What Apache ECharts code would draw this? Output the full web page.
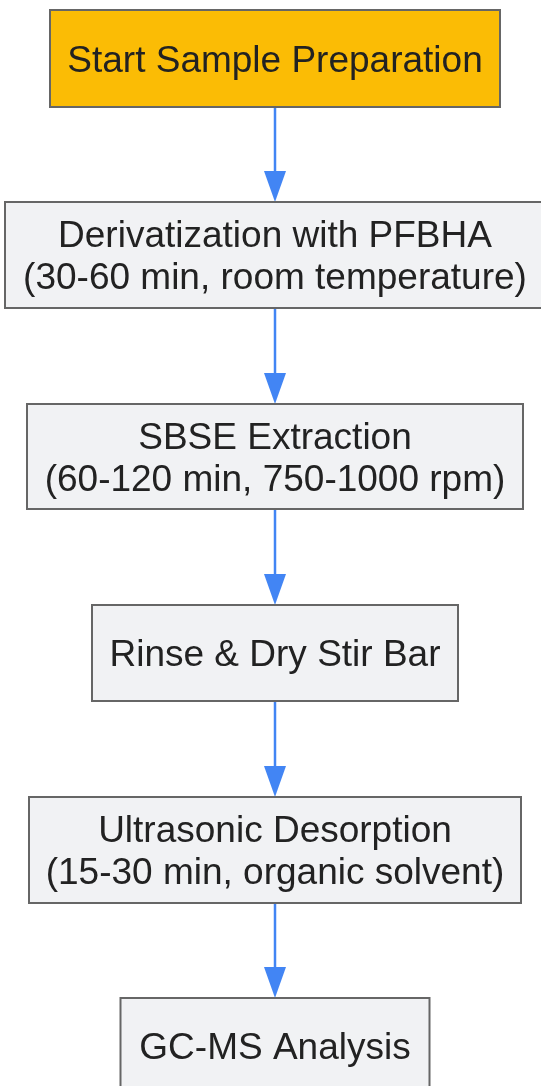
<!DOCTYPE html>
<html>
<head>
<meta charset="utf-8">
<script src="https://cdn.jsdelivr.net/npm/echarts@6/dist/echarts.min.js"></script>
<style>
html,body{margin:0;padding:0;background:#fff;}
#chart{width:541px;height:1086px;}
</style>
</head>
<body>
<div id="chart"></div>
<script>
// Flow steps (content)
const steps = [
  'Start Sample Preparation',
  'Derivatization with PFBHA\n(30-60 min, room temperature)',
  'SBSE Extraction\n(60-120 min, 750-1000 rpm)',
  'Rinse & Dry Stir Bar',
  'Ultrasonic Desorption\n(15-30 min, organic solvent)',
  'GC-MS Analysis'
];
const stepKind = ['start', 'process', 'process', 'process', 'process', 'process'];
// Flow links: from step index -> to step index
const linkFrom = [0, 1, 2, 3, 4];
const linkTo = [1, 2, 3, 4, 5];

// Layout (pixel geometry of the diagram, not data)
const centerX = 275;
const boxTop = [10, 202, 404, 605, 797, 998];
const boxBottom = [107, 308, 509, 701, 903, 1094];
const boxWidth = [450, 540, 496, 366, 492, 309];
const textShift = 3;

const fills = { start: '#FBBC05', process: '#F1F2F4' };

const chart = echarts.init(document.getElementById('chart'), null, { renderer: 'canvas' });

const boxData = steps.map((s, i) => [i]);
const linkData = linkFrom.map((f, i) => [f, linkTo[i]]);

chart.setOption({
  animation: false,
  backgroundColor: '#ffffff',
  grid: { left: 0, right: 0, top: 0, bottom: 0 },
  xAxis: { type: 'value', min: 0, max: 541, show: false },
  yAxis: { type: 'value', min: 0, max: 1086, inverse: true, show: false },
  series: [
    {
      type: 'custom',
      coordinateSystem: 'cartesian2d',
      data: linkData,
      z: 1,
      renderItem: function (params, api) {
        const f = api.value(0), t = api.value(1);
        const p0 = api.coord([centerX, boxBottom[f]]);
        const p1 = api.coord([centerX, boxTop[t]]);
        const ah = 31, aw = 22;
        return {
          type: 'group',
          children: [
            { type: 'line', shape: { x1: p0[0], y1: p0[1], x2: p1[0], y2: p1[1] - ah + 2 },
              style: { stroke: '#4285F4', lineWidth: 2.5 } },
            { type: 'polygon', shape: { points: [[p1[0] - aw / 2, p1[1] - ah], [p1[0] + aw / 2, p1[1] - ah], [p1[0], p1[1]]] },
              style: { fill: '#4285F4' } }
          ]
        };
      }
    },
    {
      type: 'custom',
      coordinateSystem: 'cartesian2d',
      data: boxData,
      z: 2,
      renderItem: function (params, api) {
        const i = api.value(0);
        const tl = api.coord([centerX - boxWidth[i] / 2, boxTop[i]]);
        const br = api.coord([centerX + boxWidth[i] / 2, boxBottom[i]]);
        return {
          type: 'group',
          children: [
            { type: 'rect', shape: { x: tl[0], y: tl[1], width: br[0] - tl[0], height: br[1] - tl[1] },
              style: { fill: fills[stepKind[i]], stroke: '#666666', lineWidth: 2 } },
            { type: 'text', x: (tl[0] + br[0]) / 2, y: (tl[1] + br[1]) / 2 + textShift,
              style: { text: steps[i], fill: '#222222', font: '37px "Liberation Sans", Arial, sans-serif',
                       lineHeight: 42, align: 'center', verticalAlign: 'middle' } }
          ]
        };
      }
    }
  ]
});
</script>
</body>
</html>
